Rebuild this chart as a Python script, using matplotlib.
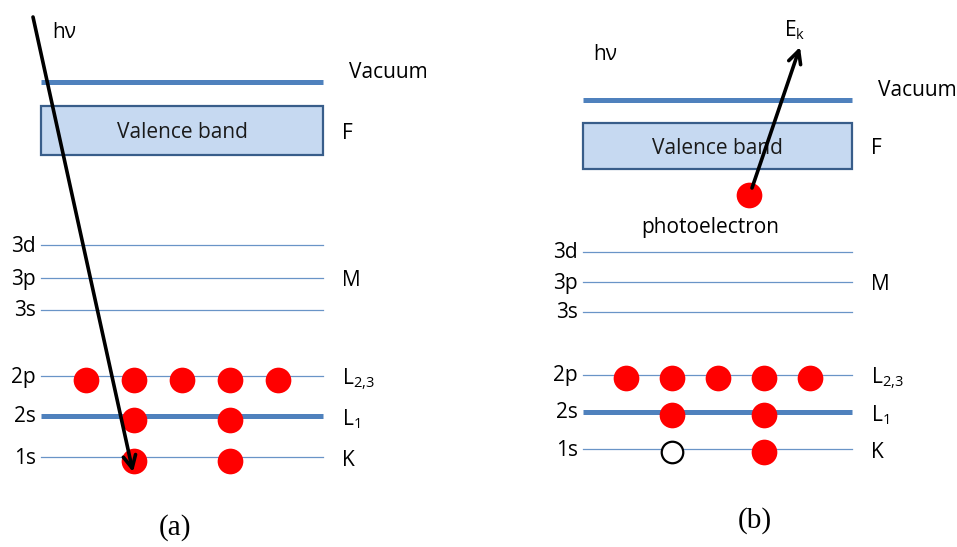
import matplotlib
matplotlib.use("Agg")
import matplotlib.pyplot as plt
from matplotlib.patches import Rectangle

# energy levels (left label, right label, thick?)
level_names = ["3d", "3p", "3s", "2p", "2s", "1s"]
shell_names = ["", "M", "", "$\\mathregular{L_{2{,}3}}$", "$\\mathregular{L_1}$", "K"]
level_thick = [False, False, False, False, True, False]
level_y_a = [245, 278, 310, 376, 416, 457]
level_y_b = [252, 282, 312, 375, 412, 449]

# electrons on each level (x positions)
dots_a = {"2p": [86, 134, 182, 230, 278], "2s": [134, 230], "1s": [134, 230]}
dots_b = {"2p": [626, 672, 718, 764, 810], "2s": [672, 764], "1s": [764]}
hole_b = {"1s": [672]}

BLUE = "#4F81BD"
FONT = ["Open Sans", "DejaVu Sans"]
FS = 15

fig = plt.figure(figsize=(9.57, 5.47), dpi=100)
ax = fig.add_axes([0, 0, 1, 1])
ax.set_xlim(0, 957)
ax.set_ylim(547, 0)
ax.axis("off")


def panel(x0, x1, vac_y, vb_top, vb_bot, ys, dots, holes, dot_dy):
	ax.plot([x0, x1], [vac_y, vac_y], color=BLUE, lw=3.6, solid_capstyle="butt")
	ax.add_patch(Rectangle((x0, vb_top), x1 - x0, vb_bot - vb_top,
		facecolor="#C6D9F1", edgecolor="#385D8A", lw=1.6))
	ax.text((x0 + x1) / 2, (vb_top + vb_bot) / 2 + 2, "Valence band", ha="center",
		va="center", fontsize=FS, family=FONT, color="#1a1a1a")
	ax.text(x1 + 19, (vb_top + vb_bot) / 2 + 3, "F", va="center", fontsize=FS, family=FONT)
	ax.text(x1 + 26, vac_y - 9, "Vacuum", va="center", fontsize=FS, family=FONT)
	for name, shell, thick, y in zip(level_names, shell_names, level_thick, ys):
		if thick:
			ax.plot([x0, x1], [y, y], color=BLUE, lw=3.6, solid_capstyle="butt")
		else:
			ax.plot([x0, x1], [y, y], color=BLUE, lw=0.9, alpha=0.85)
		ax.text(x0 - 5, y + 1, name, ha="right", va="center", fontsize=FS, family=FONT)
		if shell:
			ax.text(x1 + 19, y + 3, shell, va="center", fontsize=FS, family=FONT)
		for x in dots.get(name, []):
			ax.plot(x, y + dot_dy, "o", ms=18.5, color="#FF0000", mec="none")
		for x in holes.get(name, []):
			ax.plot(x, y + dot_dy, "o", ms=15.5, mfc="white", mec="black", mew=1.6)


panel(41, 323, 82, 106, 155, level_y_a, dots_a, {}, 4)
panel(583, 852, 100, 123, 169, level_y_b, dots_b, hole_b, 3)

# (a) incoming photon
ax.annotate("", xy=(133, 472), xytext=(33, 17),
	arrowprops=dict(arrowstyle="->,head_length=0.9,head_width=0.45", lw=2.6, color="black",
		shrinkA=0, shrinkB=0))
ax.text(52, 32, "hν", va="center", fontsize=FS, family=FONT)
ax.text(175, 528, "(a)", ha="center", va="center", fontsize=21, family="Liberation Serif")

# (b) photoelectron escaping
ax.plot(749, 195, "o", ms=18.5, color="#FF0000", mec="none")
ax.annotate("", xy=(800, 47), xytext=(752, 188),
	arrowprops=dict(arrowstyle="->,head_length=0.9,head_width=0.45", lw=2.6, color="black",
		shrinkA=0, shrinkB=0))
ax.text(593, 54, "hν", va="center", fontsize=FS, family=FONT)
ax.text(784, 30, "$\\mathregular{E_k}$", va="center", fontsize=FS, family=FONT)
ax.text(710, 228, "photoelectron", ha="center", va="center", fontsize=FS, family=FONT)
ax.text(755, 521, "(b)", ha="center", va="center", fontsize=21, family="Liberation Serif")

fig.savefig("out.png", dpi=100)
